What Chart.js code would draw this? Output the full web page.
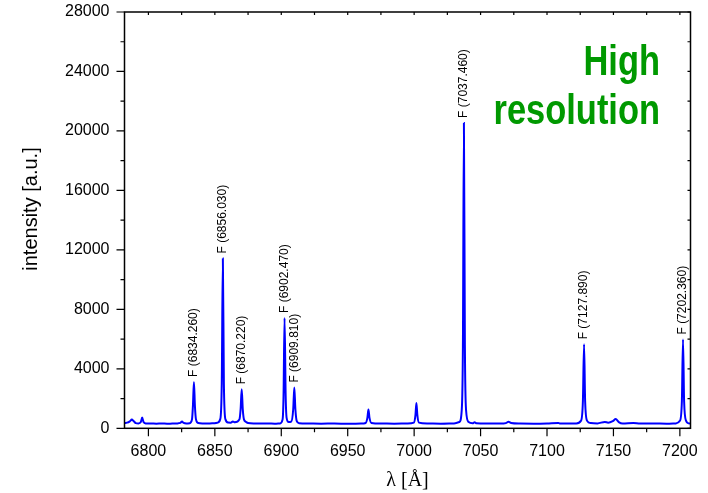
<!DOCTYPE html>
<html>
<head>
<meta charset="utf-8">
<title>High resolution spectrum</title>
<script src="https://cdn.jsdelivr.net/npm/chart.js@4.4.1/dist/chart.umd.min.js"></script>
<style>
  html, body { margin: 0; padding: 0; background: #fff; }
  #wrap { width: 708px; height: 493px; }
</style>
</head>
<body>
<div id="wrap"><canvas id="spectrumChart" width="708" height="493"></canvas></div>
<script>
// Spectrum: wavelength [Å] and intensity [a.u.]
const wavelengths = [
  6782.0, 6784.0, 6786.0, 6787.5, 6789.0, 6790.5, 6792.5, 6794.3, 6795.3, 6796.3,
  6798.0, 6802.0, 6806.0, 6810.0, 6814.0, 6818.0, 6822.0, 6824.0, 6825.3, 6826.5,
  6828.5, 6831.0, 6832.8, 6833.5, 6834.26, 6835.0, 6835.8, 6837.5, 6841.0, 6845.0,
  6849.0, 6852.0, 6854.0, 6855.2, 6856.03, 6856.8, 6858.0, 6860.0, 6862.0, 6863.5,
  6865.0, 6868.5, 6869.4, 6870.22, 6871.0, 6871.9, 6873.3, 6875.0, 6880.0, 6885.0,
  6890.0, 6895.0, 6899.0, 6901.0, 6901.7, 6902.47, 6903.3, 6904.0, 6905.5, 6907.5,
  6909.0, 6909.81, 6910.6, 6911.6, 6913.5, 6920.0, 6930.0, 6940.0, 6950.0, 6960.0,
  6963.5, 6964.8, 6965.6, 6966.4, 6967.8, 6975.0, 6985.0, 6995.0, 6999.8, 7001.0,
  7001.7, 7002.4, 7003.6, 7010.0, 7020.0, 7030.0, 7034.0, 7035.8, 7036.7, 7037.46,
  7038.2, 7039.1, 7041.0, 7044.0, 7045.5, 7047.0, 7055.0, 7065.0, 7069.0, 7071.0,
  7073.0, 7080.0, 7090.0, 7100.0, 7108.5, 7109.5, 7115.0, 7122.0, 7125.5, 7127.0,
  7127.89, 7128.7, 7130.2, 7133.0, 7138.0, 7143.5, 7146.0, 7149.5, 7151.7, 7154.0,
  7157.0, 7165.0, 7170.0, 7180.0, 7190.0, 7197.0, 7200.0, 7201.5, 7202.36, 7203.2,
  7204.7, 7206.5, 7208.0
];
const intensities = [
  360, 380, 470, 585, 470, 350, 330, 420, 720, 420,
  330, 320, 310, 325, 305, 320, 330, 360, 450, 360,
  320, 340, 600, 1500, 3120, 1500, 600, 350, 330, 320,
  340, 380, 600, 3000, 11420, 3000, 600, 390, 380, 450,
  400, 600, 1300, 2620, 1300, 600, 440, 350, 330, 315,
  320, 310, 330, 600, 2200, 7420, 2200, 700, 420, 450,
  1300, 2740, 1300, 500, 340, 320, 310, 320, 305, 320,
  360, 700, 1260, 700, 360, 320, 310, 320, 380, 900,
  1700, 900, 380, 320, 310, 330, 420, 1200, 5500, 20540,
  5500, 1200, 420, 340, 400, 340, 320, 315, 350, 440,
  360, 320, 310, 325, 360, 330, 320, 330, 500, 1800,
  5650, 1800, 500, 350, 330, 430, 380, 480, 620, 420,
  330, 360, 315, 320, 310, 330, 500, 1800, 5970, 1800,
  500, 330, 320
];

// Labelled lines
const peakWavelengths = [6834.26, 6856.03, 6870.22, 6902.47, 6909.81, 7037.46, 7127.89, 7202.36];
const peakNames = ['F (6834.260)', 'F (6856.030)', 'F (6870.220)', 'F (6902.470)',
                   'F (6909.810)', 'F (7037.460)', 'F (7127.890)', 'F (7202.360)'];

// Labelled ticks
const xTickLabels = [6800, 6850, 6900, 6950, 7000, 7050, 7100, 7150, 7200];
const yTickLabels = [0, 4000, 8000, 12000, 16000, 20000, 24000, 28000];

const SANS = '"Liberation Sans", Arial, sans-serif';

// Frame, tick marks, titles and annotations
const spectrumDecor = {
  id: 'spectrumDecor',
  afterDatasetsDraw(chart) {
    const { ctx, scales: { x, y } } = chart;
    ctx.save();
    ctx.fillStyle = '#000';
    ctx.font = '12px ' + SANS;
    ctx.textAlign = 'left';
    ctx.textBaseline = 'middle';
    peakWavelengths.forEach((wl, i) => {
      const idx = wavelengths.indexOf(wl);
      const px = x.getPixelForValue(wl);
      const py = y.getPixelForValue(intensities[idx]) - 5;
      ctx.save();
      ctx.translate(px, py);
      ctx.rotate(-Math.PI / 2);
      ctx.fillText(peakNames[i], 0, 0);
      ctx.restore();
    });
    ctx.restore();
  },
  afterDraw(chart) {
    const { ctx, chartArea: a, scales: { x, y } } = chart;
    ctx.save();
    ctx.strokeStyle = '#000';
    ctx.lineWidth = 1.5;
    ctx.strokeRect(a.left, a.top, a.right - a.left, a.bottom - a.top);

    ctx.lineWidth = 1.2;
    ctx.beginPath();
    x.ticks.forEach(t => {
      const px = x.getPixelForValue(t.value);
      const len = xTickLabels.includes(t.value) ? 8 : 4;
      ctx.moveTo(px, a.bottom);
      ctx.lineTo(px, a.bottom + len);
      ctx.moveTo(px, a.top);
      ctx.lineTo(px, a.top + 3);
    });
    y.ticks.forEach(t => {
      const py = y.getPixelForValue(t.value);
      const len = yTickLabels.includes(t.value) ? 8 : 4;
      ctx.moveTo(a.left, py);
      ctx.lineTo(a.left - len, py);
      ctx.moveTo(a.right, py);
      ctx.lineTo(a.right - 3, py);
    });
    ctx.stroke();

    // axis titles
    ctx.fillStyle = '#000';
    ctx.textAlign = 'center';
    ctx.textBaseline = 'middle';
    ctx.font = '20px ' + SANS;
    ctx.save();
    ctx.translate(31, 209);
    ctx.rotate(-Math.PI / 2);
    ctx.fillText('intensity [a.u.]', 0, 0);
    ctx.restore();
    ctx.font = '20px "Liberation Serif", "Times New Roman", serif';
    ctx.fillText('λ [Å]', (a.left + a.right) / 2, 481);

    // "High resolution" note, condensed bold
    ctx.fillStyle = 'rgb(0, 153, 0)';
    ctx.font = 'bold 42px ' + SANS;
    ctx.textAlign = 'right';
    ctx.textBaseline = 'alphabetic';
    ctx.translate(660, 0);
    ctx.scale(0.82, 1);
    ctx.fillText('High', 0, 75);
    ctx.fillText('resolution', 0, 124);
    ctx.restore();
  }
};

const points = wavelengths.map((wl, i) => ({ x: wl, y: intensities[i] }));

new Chart(document.getElementById('spectrumChart'), {
  type: 'line',
  data: {
    datasets: [{
      data: points,
      borderColor: 'rgb(0, 0, 255)',
      borderWidth: 2,
      pointRadius: 0,
      fill: false,
      cubicInterpolationMode: 'monotone'
    }]
  },
  options: {
    responsive: false,
    animation: false,
    layout: { padding: { top: 12, right: 17.5, left: 0, bottom: 0 } },
    plugins: {
      legend: { display: false },
      tooltip: { enabled: false }
    },
    scales: {
      x: {
        type: 'linear',
        min: 6782,
        max: 7208,
        afterFit: (s) => {
          s.height = 64.7;
          s.paddingLeft = 0;
          s.paddingRight = 0;
        },
        grid: { display: false, drawTicks: false },
        border: { display: false },
        ticks: {
          stepSize: 25,
          includeBounds: false,
          autoSkip: false,
          maxRotation: 0,
          padding: 14,
          color: '#000',
          font: { family: SANS, size: 16 },
          callback: (v) => xTickLabels.includes(v) ? String(v) : ''
        }
      },
      y: {
        type: 'linear',
        min: 0,
        max: 28000,
        afterFit: (s) => {
          s.width = 124.5;
          s.paddingTop = 0;
          s.paddingBottom = 0;
        },
        grid: { display: false, drawTicks: false },
        border: { display: false },
        ticks: {
          stepSize: 2000,
          includeBounds: false,
          autoSkip: false,
          padding: 15,
          color: '#000',
          font: { family: SANS, size: 16 },
          callback: (v) => yTickLabels.includes(v) ? String(v) : ''
        }
      }
    }
  },
  plugins: [spectrumDecor]
});
</script>
</body>
</html>
